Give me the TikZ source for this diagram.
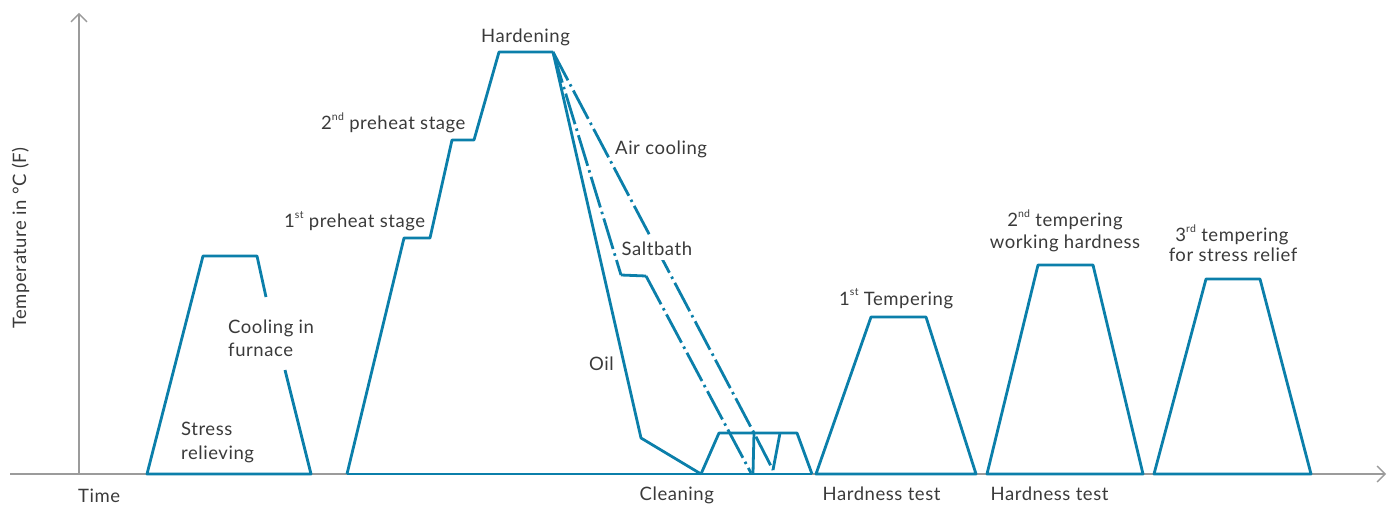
\documentclass[tikz,border=0pt]{standalone}
\usepackage{fontspec}
\setmainfont[LetterSpace=3]{Lato}
\usetikzlibrary{arrows.meta}
\definecolor{heatblue}{HTML}{0B7FAA}
\definecolor{axisgrey}{HTML}{9B9B9B}
\definecolor{labeltext}{HTML}{3A3A3A}
% raised ordinal suffix (1st, 2nd, 3rd)
\newcommand\ordsup[1]{\raisebox{0.5em}{\fontsize{10.5}{10}\selectfont #1}}
\begin{document}
\begin{tikzpicture}[x=1pt,y=-1pt,
  axis/.style={draw=axisgrey,line width=1.4pt},
  axistip/.style={-{Straight Barb[length=8pt,width=16pt,line width=1.4pt]}},
  curve/.style={draw=heatblue,line width=2.8pt,line join=round},
  quench/.style={curve,dash pattern=on 32pt off 4.5pt on 2.5pt off 4.5pt},
  lbl/.style={text=labeltext,font=\fontsize{18.5}{22}\selectfont,inner sep=0pt},
]
\useasboundingbox (0,0) rectangle (1400,508);

% axes
\coordinate (origin) at (79,474);
\coordinate (xend) at (1386,474);
\coordinate (xstart) at (10,474);
\coordinate (yend) at (79,13);
\draw[axis,axistip] (xstart) -- (xend);
\draw[axis,axistip] (origin) -- (yend);

% stress relieving, cooled in the furnace
\draw[curve] (266,297) -- (257,256) -- (203,256) -- (147,474) -- (311,474) -- (285,370);

% preheating and hardening
\coordinate (hstart) at (347,474);
\coordinate (hend) at (553,52);
\draw[curve] (hstart) -- (404,238) -- (430,238) -- (452,140) -- (474,140) -- (499,52) -- (hend);
\draw[curve] (hstart) -- (812,474);

% oil quench
\draw[curve] (hend) -- (641,438) -- (701,474);
% salt bath quench with holding step
\draw[quench] (hend) -- (621,275);
\draw[curve] (621,275) -- (646,276);
\draw[quench] (646,276) -- (751,473);
% air cooling
\draw[quench] (hend) -- (754,433) -- (773,470);
\draw[curve] (754,433) -- (753,473);
\draw[curve] (773,470) -- (780,433);

% cleaning
\draw[curve] (701,474) -- (719,433) -- (797,433) -- (812,474);

% tempering cycles
\draw[curve] (816,474) -- (871,317) -- (926,317) -- (976,474) -- cycle;
\draw[curve] (987,474) -- (1038,265) -- (1093,265) -- (1143,474) -- cycle;
\draw[curve] (1154,474) -- (1206,279) -- (1260,279) -- (1311,474) -- cycle;

% labels
\node[lbl,rotate=90,anchor=base] (ylab) at (26,238) {Temperature in °C (F)};
\node[lbl,anchor=base west] (xlab) at (78,502) {Time};
\node[lbl,anchor=base west] (sr1) at (181,435) {Stress};
\node[lbl,anchor=base west] (sr2) at (181,459) {relieving};
\node[lbl,anchor=base west] (cf1) at (228,333.5) {Cooling in};
\node[lbl,anchor=base west] (cf2) at (228,356.5) {furnace};
\node[lbl,anchor=base west] (ph1) at (284,227.5) {1\ordsup{st} preheat stage};
\node[lbl,anchor=base west] (ph2) at (321,129.5) {2\ordsup{nd} preheat stage};
\node[lbl,anchor=base west] (hard) at (481,42.5) {Hardening};
\node[lbl,anchor=base west] (air) at (615,154.3) {Air cooling};
\node[lbl,anchor=base west,fill=white,inner xsep=1.5pt,inner ysep=5pt] (salt) at (620,255) {Saltbath};
\node[lbl,anchor=base west] (oil) at (589,370) {Oil};
\node[lbl,anchor=base west] (clean) at (639.5,500) {Cleaning};
\node[lbl,anchor=base west] (ht1) at (822.5,500) {Hardness test};
\node[lbl,anchor=base west] (ht2) at (990.5,500) {Hardness test};
\node[lbl,anchor=base west] (t1) at (839,305) {1\ordsup{st} Tempering};
\node[lbl,anchor=base] (t2a) at (1065,226.7) {2\ordsup{nd} tempering};
\node[lbl,anchor=base] (t2b) at (1065,248.3) {working hardness};
\node[lbl,anchor=base] (t3a) at (1232,241.7) {3\ordsup{rd} tempering};
\node[lbl,anchor=base] (t3b) at (1233,261.7) {for stress relief};
\end{tikzpicture}
\end{document}
